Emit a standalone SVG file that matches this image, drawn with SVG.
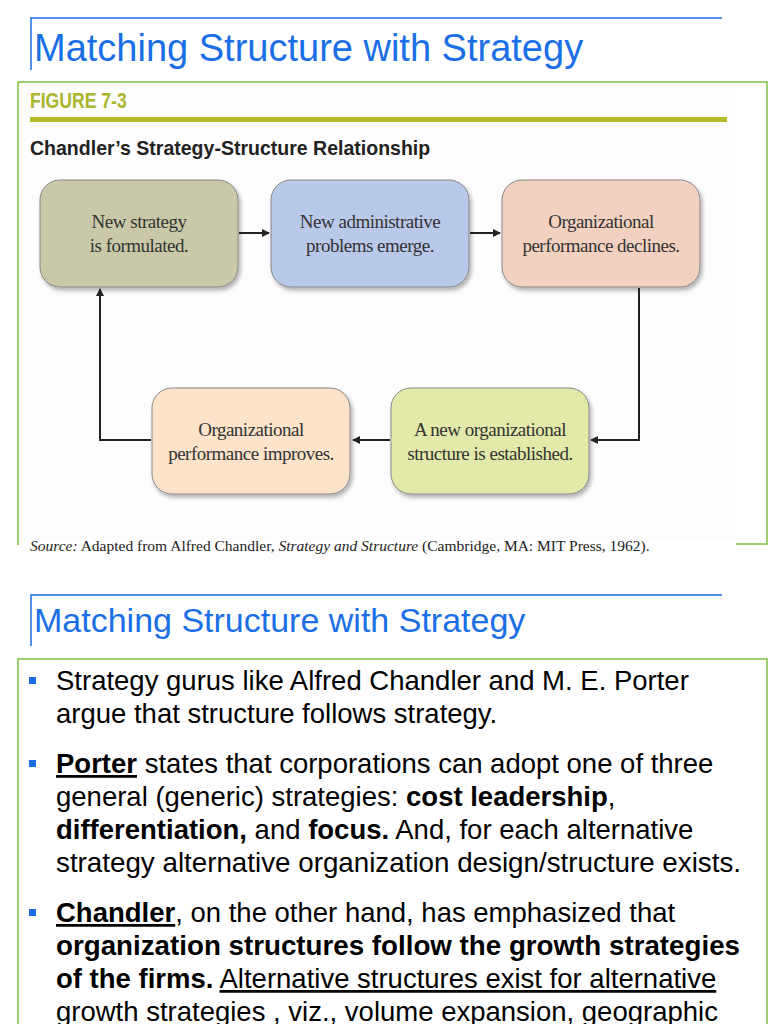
<svg xmlns="http://www.w3.org/2000/svg" width="768" height="1024" viewBox="0 0 768 1024">
<style>
.t{font-family:"Liberation Sans",Arial,sans-serif;fill:#1a6fe6}
.n{font-family:"Liberation Serif","Times New Roman",serif;font-size:19px;fill:#333;text-anchor:middle;letter-spacing:-0.5px}
.b{font-family:"Liberation Sans",Arial,sans-serif;font-size:27.5px;fill:#000}
.c{stroke:#222;stroke-width:2;fill:none}
.box{stroke:#888;stroke-width:1}
.g{stroke:#7dc142;stroke-width:1.5;fill:none}
.bl{stroke:#1a6fe6;stroke-width:1.5;fill:none}
</style>
<defs><marker id="a" markerWidth="8" markerHeight="8" refX="7" refY="4" orient="auto" markerUnits="userSpaceOnUse"><path d="M0,0L8,4L0,8Z" fill="#222"/></marker>
<filter id="s"><feDropShadow dx="2" dy="3" stdDeviation="2" flood-opacity="0.3"/></filter></defs>
<rect width="768" height="1024" fill="#fff"/>
<path class="bl" d="M31,70V18H722"/>
<text class="t" x="34" y="61" font-size="38">Matching Structure with Strategy</text>
<path class="g" d="M18,545V82H767V544H736"/>
<rect x="24" y="86" width="712" height="455" fill="#fdfdfd"/>
<text x="30" y="108" font-family="Liberation Sans,sans-serif" font-weight="bold" font-size="22" fill="#a9b52b" transform="translate(30 0) scale(0.8 1) translate(-30 0)">FIGURE 7-3</text>
<rect x="30" y="117" width="697" height="5" fill="#b4bb24"/>
<text x="30" y="155" font-family="Liberation Sans,sans-serif" font-weight="bold" font-size="21" fill="#222" transform="translate(30 0) scale(0.93 1) translate(-30 0)">Chandler’s Strategy-Structure Relationship</text>
<g id="n1"><rect class="box" filter="url(#s)" x="40" y="180" width="198" height="107" rx="20" fill="#c9c9aa"/><text class="n" x="139" y="228">New strategy</text><text class="n" x="139" y="252">is formulated.</text></g>
<g id="n2"><rect class="box" filter="url(#s)" x="271" y="180" width="198" height="107" rx="20" fill="#b9c9e9"/><text class="n" x="370" y="228">New administrative</text><text class="n" x="370" y="252">problems emerge.</text></g>
<g id="n3"><rect class="box" filter="url(#s)" x="502" y="180" width="198" height="107" rx="20" fill="#f3d1c1"/><text class="n" x="601" y="228">Organizational</text><text class="n" x="601" y="252">performance declines.</text></g>
<g id="n4"><rect class="box" filter="url(#s)" x="152" y="388" width="198" height="106" rx="20" fill="#fde3c9"/><text class="n" x="251" y="436">Organizational</text><text class="n" x="251" y="460">performance improves.</text></g>
<g id="n5"><rect class="box" filter="url(#s)" x="391" y="388" width="198" height="106" rx="20" fill="#e3e9a9"/><text class="n" x="490" y="436">A new organizational</text><text class="n" x="490" y="460">structure is established.</text></g>
<g id="connectors">
<path class="c" d="M239,233H269" marker-end="url(#a)"/>
<path class="c" d="M470,233H500" marker-end="url(#a)"/>
<path class="c" d="M639,288V440H591" marker-end="url(#a)"/>
<path class="c" d="M390,440H353" marker-end="url(#a)"/>
<path class="c" d="M151,440H100V289" marker-end="url(#a)"/>
</g>
<text x="30" y="551" font-family="Liberation Serif,serif" font-size="15.5" fill="#222"><tspan font-style="italic">Source:</tspan> Adapted from Alfred Chandler, <tspan font-style="italic">Strategy and Structure</tspan> (Cambridge, MA: MIT Press, 1962).</text>
<path class="bl" d="M31,646V595H722"/>
<text class="t" x="34" y="632" font-size="34">Matching Structure with Strategy</text>
<path class="g" d="M18,1024V659H767V1024"/>
<g fill="#1a6fe6"><rect x="29" y="677" width="7" height="7"/><rect x="29" y="760" width="7" height="7"/><rect x="29" y="909" width="7" height="7"/></g>
<text class="b" x="56" y="690">Strategy gurus like Alfred Chandler and M. E. Porter</text>
<text class="b" x="56" y="723">argue that structure follows strategy.</text>
<text class="b" x="56" y="773"><tspan font-weight="bold" text-decoration="underline">Porter</tspan> states that corporations can adopt one of three</text>
<text class="b" x="56" y="806">general (generic) strategies: <tspan font-weight="bold">cost leadership</tspan>,</text>
<text class="b" x="56" y="839"><tspan font-weight="bold">differentiation,</tspan> and <tspan font-weight="bold">focus.</tspan> And, for each alternative</text>
<text class="b" x="56" y="872" textLength="685" lengthAdjust="spacingAndGlyphs">strategy alternative organization design/structure exists.</text>
<text class="b" x="56" y="922"><tspan font-weight="bold" text-decoration="underline">Chandler</tspan>, on the other hand, has emphasized that</text>
<text class="b" x="56" y="955" font-weight="bold" textLength="684" lengthAdjust="spacingAndGlyphs">organization structures follow the growth strategies</text>
<text class="b" x="56" y="988"><tspan font-weight="bold">of the firms.</tspan> <tspan text-decoration="underline">Alternative structures exist for alternative</tspan></text>
<text class="b" x="56" y="1021">growth strategies , viz., volume expansion, geographic</text>
</svg>
